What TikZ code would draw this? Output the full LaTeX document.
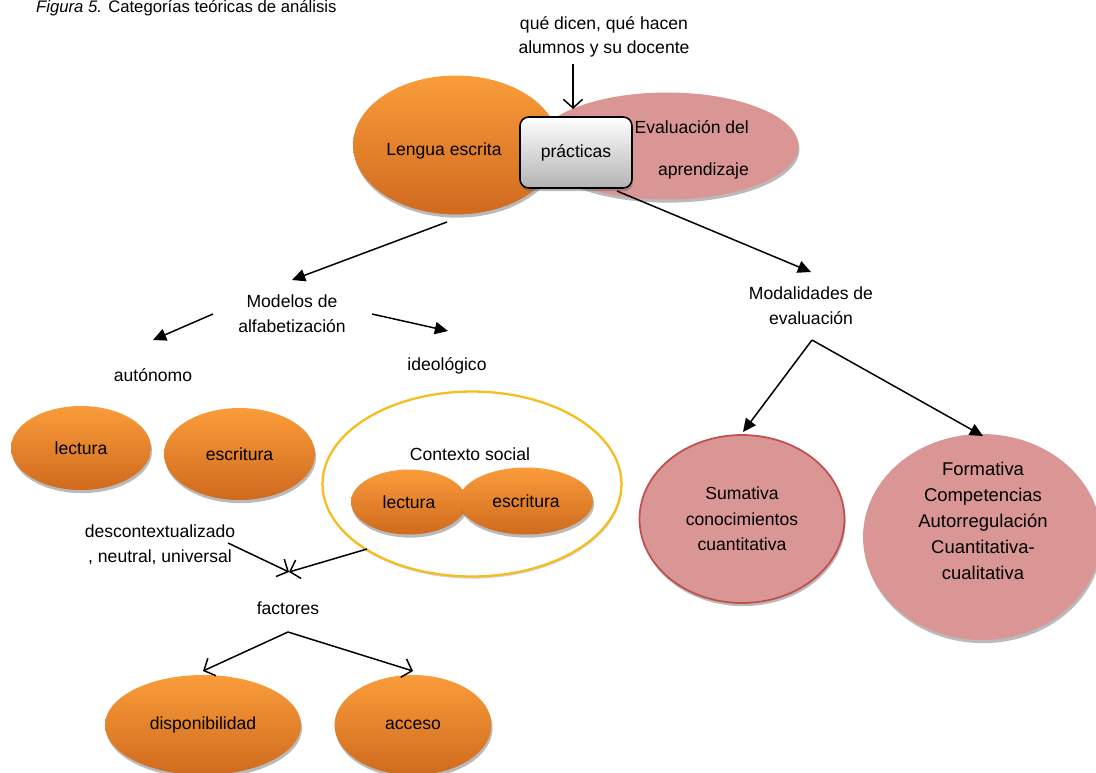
\documentclass[tikz,border=0pt]{standalone}
\usepackage{fontspec}
\setmainfont{Liberation Sans}
\usetikzlibrary{arrows.meta, shapes.geometric, shadows}
\definecolor{naranjaT}{HTML}{FA9C3A}
\definecolor{naranjaB}{HTML}{CF6A1E}
\definecolor{rosa}{HTML}{D99694}
\definecolor{rosaD}{HTML}{C0504D}
\definecolor{oro}{HTML}{F5BE1E}

\begin{document}
\begin{tikzpicture}[
    x=0.02cm, y=-0.02cm,
    every node/.style={font=\fontsize{10}{14}\selectfont, text=black},
    lab/.style={align=center, inner sep=1pt},
    sh/.style={drop shadow={shadow xshift=0.6pt, shadow yshift=-1.8pt, opacity=.45, fill=black!60}},
    nar/.style={ellipse, sh, top color=naranjaT, bottom color=naranjaB, draw=none, inner sep=0pt},
    ros/.style={ellipse, sh, fill=rosa, draw=none, inner sep=0pt, align=center},
    caja/.style={rectangle, rounded corners=5pt, sh, draw=black, line width=0.9pt,
                 top color=white, bottom color=black!30, minimum width=2.24cm, minimum height=1.42cm},
    arr/.style={-{Triangle[length=7.5pt, width=7pt]}, line width=0.85pt},
    arv/.style={-{Straight Barb[length=5pt, width=11pt]}, line width=0.85pt},
]
\useasboundingbox (0,0) rectangle (1096,772);

\node[anchor=base west, font=\fontsize{9.5}{11}\selectfont] (tit) at (30,12)
    {\textit{Figura 5.} Categorías teóricas de análisis};

% ================================================================ arriba
\node[lab, font=\fontsize{10}{13.6}\selectfont] (dq) at (604,37) {qué dicen, qué hacen\\alumnos y su docente};
\node[nar, minimum width=4.12cm, minimum height=2.78cm] (le) at (456,145) {};
\node (let) at (444,151) {Lengua escrita};
\node[ros, minimum width=5.26cm, minimum height=2.14cm] (ev) at (667,146) {};
\node[lab, align=right, anchor=east, font=\fontsize{10}{24}\selectfont] (evt) at (751,150) {Evaluación del\\aprendizaje};
\node[caja] (pr) at (576,152.5) {prácticas};

% ================================================================ alfabetizacion
\node[lab] (mo) at (292,314) {Modelos de\\alfabetización};
\node (au) at (153,375) {autónomo};
\node (id) at (447,366) {ideológico};
\node[nar, minimum width=2.8cm, minimum height=1.68cm] (l1) at (81,448) {lectura};
\node[nar, minimum width=3.02cm, minimum height=1.84cm] (e1) at (239.5,454) {escritura};
\node[ellipse, draw=oro, line width=1.3pt, fill=white, minimum width=5.98cm, minimum height=3.7cm,
      drop shadow={shadow xshift=0.4pt, shadow yshift=-1.2pt, opacity=.35, fill=black!50}] (cs) at (472,484) {};
\node (cst) at (470,454) {Contexto social};
\node[nar, minimum width=2.32cm, minimum height=1.30cm] (l2) at (409,502) {lectura};
\node[nar, minimum width=2.68cm, minimum height=1.34cm] (e2) at (526,501) {escritura};
\node[lab] (dc) at (160,545) {descontextualizado\\, neutral, universal};
\node (fa) at (288,608) {factores};
\node[nar, minimum width=3.92cm, minimum height=2.0cm] (di) at (203,725) {disponibilidad};
\node[nar, minimum width=3.14cm, minimum height=2.0cm] (ac) at (413,725) {acceso};

% ================================================================ evaluacion
\node[lab] (md) at (811,306) {Modalidades de\\evaluación};
\node[ros, draw=rosaD, line width=1pt, minimum width=4.1cm, minimum height=3.36cm,
      font=\fontsize{10}{14.5}\selectfont] (su) at (742,519) {Sumativa\\conocimientos\\cuantitativa};
\node[ros, minimum width=4.76cm, minimum height=4.12cm] (fo) at (982,537) {};
\node[lab, font=\fontsize{10.5}{14.8}\selectfont] (fot) at (983,521)
    {Formativa\\Competencias\\Autorregulación\\Cuantitativa-\\cualitativa};

% ================================================================ flechas
\coordinate (q0) at (573,64);   \coordinate (q1) at (573,109);
\coordinate (le0) at (447,222); \coordinate (mo0) at (292,280);
\coordinate (mo1) at (213,314); \coordinate (au0) at (153,340);
\coordinate (mo2) at (372,314); \coordinate (id0) at (448,331);
\coordinate (pr0) at (617,191); \coordinate (md0) at (811,272);
\coordinate (md1) at (812,340); \coordinate (su0) at (743,432);
\coordinate (fo0) at (983,436);
\coordinate (dc0) at (228,543); \coordinate (cs0) at (367,549);
\coordinate (fa0) at (289,572); \coordinate (fa1) at (288,632);
\coordinate (di0) at (203,671); \coordinate (ac0) at (413,671);
\foreach \a/\b in {le0/mo0, mo1/au0, mo2/id0, pr0/md0, md1/su0, md1/fo0}{ \draw[arr] (\a) -- (\b); }
\foreach \a/\b in {q0/q1, dc0/fa0, cs0/fa0, fa1/di0, fa1/ac0}{ \draw[arv] (\a) -- (\b); }
\end{tikzpicture}
\end{document}
